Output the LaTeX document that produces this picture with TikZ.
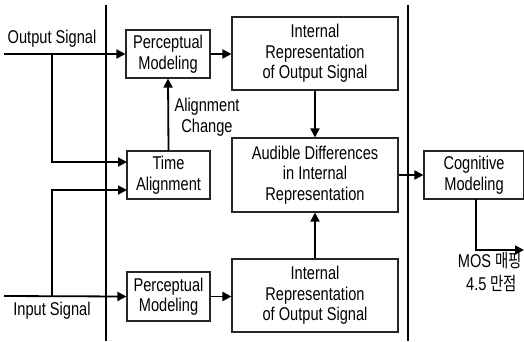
\documentclass[tikz,border=0pt]{standalone}
\usepackage{fontspec}
\setmainfont{Liberation Sans}[FakeStretch=0.79]
\newfontfamily\kr{Noto Sans CJK KR}[FakeStretch=0.78]
\usetikzlibrary{arrows.meta}
\begin{document}
\begin{tikzpicture}[x=1pt,y=-1pt,
  box/.style={draw=black!85,line width=1.1pt,align=center,inner sep=0pt,
    font=\fontsize{18.5}{20.5}\selectfont},
  conn/.style={line width=1.8pt,-{Triangle[length=9pt,width=9pt]}},
  wire/.style={line width=1.8pt},
  lbl/.style={align=center,inner sep=0pt,font=\fontsize{18.5}{20.5}\selectfont}]
\useasboundingbox (0,0) rectangle (524,341);
% vertical separators
\coordinate (v1t) at (106,5); \coordinate (v1b) at (106,341);
\coordinate (v2t) at (408,5); \coordinate (v2b) at (408,341);
\draw[wire] (v1t) -- (v1b);
\draw[wire] (v2t) -- (v2b);
% boxes
\node[box,minimum width=84pt,minimum height=48pt] (perc1) at (168,54) {Perceptual\\Modeling};
\node[box,minimum width=166pt,minimum height=73pt] (int1) at (315,53.5) {Internal\\Representation\\of Output Signal};
\node[box,minimum width=83pt,minimum height=48pt] (time) at (168.5,175) {Time\\Alignment};
\node[box,minimum width=166pt,minimum height=74pt] (aud) at (315,175) {Audible Differences\\in Internal\\Representation};
\node[box,minimum width=83pt,minimum height=49pt] (perc2) at (168.5,296.5) {Perceptual\\Modeling};
\node[box,minimum width=166pt,minimum height=73pt] (int2) at (315,295.5) {Internal\\Representation\\of Output Signal};
\node[box,minimum width=100pt,minimum height=48pt] (cog) at (474,175) {Cognitive\\Modeling};
% labels
\node[lbl] (outlbl) at (52,39) {Output Signal};
\node[lbl] (inlbl) at (52,311) {Input Signal};
\node[lbl] (alch) at (207,117) {Alignment\\Change};
\node[lbl,anchor=east] (mos1) at (522,261) {MOS {\kr 매핑}};
\node[lbl,anchor=west] (mos2) at (466,283) {4.5 {\kr 만점}};
% signal wires
\coordinate (outs) at (4,54);
\coordinate (outb) at (52,54);
\coordinate (ta1) at (127,162);
\coordinate (ins) at (4,296);
\coordinate (inb) at (52,296);
\coordinate (ta2) at (127,190);
\draw[conn] (outs) -- (perc1.west);
\draw[conn] (outb) |- (ta1);
\draw[conn] (ins) -- (perc2.west);
\draw[conn] (inb) |- (ta2);
% inner connectors
\draw[conn] (perc1.east) -- (int1.west |- perc1.east);
\draw[conn] (perc2.east) -- (int2.west |- perc2.east);
\draw[conn] (time.north) -- (perc1.south);
\draw[conn] (int1.south) -- (aud.north);
\draw[conn] (int2.north) -- (aud.south);
\draw[conn] (aud.east) -- (cog.west);
% output
\coordinate (cogd) at (476,199);
\coordinate (mosend) at (524,250);
\draw[conn] (cogd) |- (mosend);
\end{tikzpicture}
\end{document}
